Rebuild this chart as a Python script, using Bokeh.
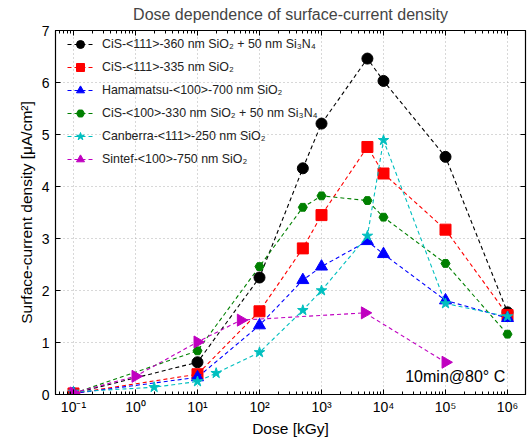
import math
from bokeh.plotting import figure
from bokeh.models import (Range1d, FixedTicker, LogAxis, LinearAxis, CustomJSTickFormatter,
                          Label, Legend, LegendItem)
from bokeh.embed import file_html
from bokeh.resources import INLINE

# ---------------- data ----------------
black_x = [0.1, 10, 100, 500, 1000, 5500, 10000, 100000, 1000000]
black_y = [0.02, 0.62, 2.25, 4.35, 5.21, 6.46, 6.03, 4.57, 1.58]

red_x = [0.1, 10, 100, 500, 1000, 5500, 10000, 100000, 1000000]
red_y = [0.02, 0.39, 1.60, 2.81, 3.45, 4.76, 4.25, 3.17, 1.53]

blue_x = [0.1, 10, 100, 500, 1000, 5500, 10000, 100000, 1000000]
blue_y = [0.02, 0.33, 1.33, 2.20, 2.46, 2.95, 2.70, 1.81, 1.47]

green_x = [0.1, 10, 100, 500, 1000, 5500, 10000, 100000, 1000000]
green_y = [0.02, 0.84, 2.46, 3.60, 3.82, 3.73, 3.41, 2.52, 1.16]

cyan_x = [0.1, 2, 10, 20, 100, 500, 1000, 5500, 10000, 100000, 1000000]
cyan_y = [0.05, 0.14, 0.25, 0.41, 0.81, 1.62, 2.00, 3.05, 4.89, 1.75, 1.50]

mag_x = [0.1, 1, 10, 50, 5000, 100000]
mag_y = [0.03, 0.35, 1.01, 1.43, 1.57, 0.62]

labels = [
    "CiS-<111>-360 nm SiO\u2082 + 50 nm Si\u2083N\u2084",
    "CiS-<111>-335 nm SiO\u2082",
    "Hamamatsu-<100>-700 nm SiO\u2082",
    "CiS-<100>-330 nm SiO\u2082 + 50 nm Si\u2083N\u2084",
    "Canberra-<111>-250 nm SiO\u2082",
    "Sintef-<100>-750 nm SiO\u2082",
]

x_major = [10.0 ** e for e in range(-1, 7)]
x_minor = [m * 10.0 ** e for e in range(-2, 7) for m in range(2, 10)]
y_major = [0, 1, 2, 3, 4, 5, 6, 7]

FONT = "Liberation Sans"

p = figure(width=528, height=439, x_axis_type="log",
           x_range=Range1d(10 ** -1.29, 10 ** 6.29), y_range=Range1d(0, 7),
           output_backend="svg", toolbar_location=None,
           title="Dose dependence of surface-current density",
           min_border_left=55, min_border_right=0, min_border_top=0, min_border_bottom=0)

p.title.text_font = FONT
p.title.text_font_size = "16px"
p.title.text_font_style = "normal"
p.title.align = "center"
p.title.offset = 0
p.title.standoff = 7

p.outline_line_color = "black"
p.outline_line_width = 1.2

fmt = CustomJSTickFormatter(code="""
const s = {'-':'\u207b','0':'\u2070','1':'\u00b9','2':'\u00b2','3':'\u00b3','4':'\u2074','5':'\u2075','6':'\u2076','7':'\u2077','8':'\u2078','9':'\u2079'};
const e = Math.round(Math.log10(tick));
return '10' + String(e).split('').map(c => s[c]).join('');
""")
blank = CustomJSTickFormatter(code="return ' ';")

xa = p.xaxis[0]
xa.ticker = FixedTicker(ticks=x_major, minor_ticks=x_minor)
xa.formatter = fmt
ya = p.yaxis[0]
ya.ticker = FixedTicker(ticks=y_major, minor_ticks=[])

for ax in (xa, ya):
    ax.major_tick_in = 5
    ax.major_tick_out = 0
    ax.minor_tick_in = 3
    ax.minor_tick_out = 0
    ax.axis_line_color = "black"
    ax.major_label_text_font = FONT
    ax.major_label_text_font_size = "14px"
    ax.major_label_text_color = "black"
    ax.axis_label_text_font = FONT
    ax.axis_label_text_font_size = "15.5px"
    ax.axis_label_text_font_style = "normal"
    ax.axis_label_text_color = "black"

xa.axis_label = "Dose [kGy]"
xa.axis_label_standoff = 2
xa.major_label_standoff = 4
ya.axis_label = "Surface-current density [\u03bcA/cm\u00b2]"
ya.axis_label_standoff = 4
ya.major_label_standoff = 6

top = LogAxis(ticker=FixedTicker(ticks=x_major, minor_ticks=x_minor), formatter=blank,
              major_label_text_font_size="1px", major_label_standoff=0,
              major_tick_in=5, major_tick_out=0,
              minor_tick_in=3, minor_tick_out=0, axis_line_color=None)
right = LinearAxis(ticker=FixedTicker(ticks=y_major, minor_ticks=[]), formatter=blank,
                   major_label_text_font_size="1px", major_label_standoff=0,
                   major_tick_in=5, major_tick_out=0,
                   minor_tick_in=0, minor_tick_out=0, axis_line_color=None)
p.add_layout(top, "above")
p.add_layout(right, "right")

for g in (p.xgrid[0], p.ygrid[0]):
    g.grid_line_color = "#b0b0b0"
    g.grid_line_dash = "1 3"
    g.grid_line_width = 1
p.xgrid[0].ticker = FixedTicker(ticks=x_major)
p.ygrid[0].ticker = FixedTicker(ticks=y_major)

series = [
    (black_x, black_y, "black", "circle", 11, 0),
    (red_x, red_y, "#ff0000", "square", 11, 0),
    (blue_x, blue_y, "#0000ff", "triangle", 12, 0),
    (green_x, green_y, "#008000", "hex", 9, 0),
    (cyan_x, cyan_y, "#00bfbf", "star", 11, 0),
    (mag_x, mag_y, "#c000c0", "triangle", 12, -math.pi / 2),
]

items = []
for (xs, ys, col, mk, sz, ang), lab in zip(series, labels):
    r1 = p.line(xs, ys, line_color=col, line_dash="4 3", line_width=1.1)
    r2 = p.scatter(xs, ys, marker=mk, size=sz, fill_color=col, line_color=col, angle=ang)
    items.append(LegendItem(label=lab, renderers=[r1, r2]))

legend = Legend(items=items, location=(12, 225))
legend.background_fill_alpha = 0
legend.border_line_color = None
legend.label_text_font = FONT
legend.label_text_font_size = "12.4px"
legend.label_text_color = "#222222"
legend.glyph_width = 26
legend.glyph_height = 20
legend.label_height = 20
legend.label_standoff = 9
legend.spacing = 3
legend.padding = 0
legend.margin = 0
p.add_layout(legend, "center")

p.add_layout(Label(x=10 ** 4.35, y=0.18, text="10min@80\u00b0 C", text_font=FONT,
                   text_font_size="16px", text_color="black"))

open("out.html", "w").write(file_html(p, INLINE))
